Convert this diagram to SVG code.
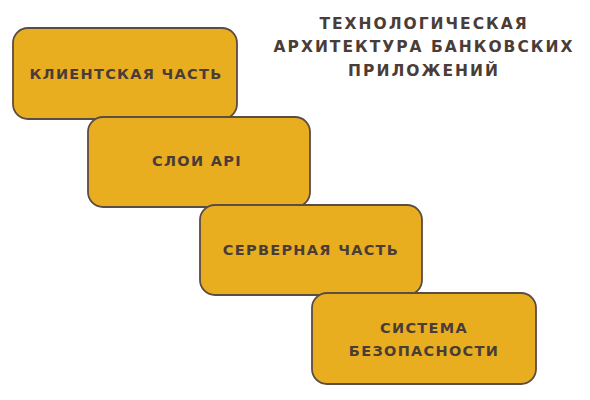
<svg xmlns="http://www.w3.org/2000/svg" width="590" height="400" viewBox="0 0 590 400">
<style>
.box{fill:#E8AE20;stroke:#5b4c44;stroke-width:1.8}
.t{font-family:"DejaVu Sans","Open Sans",sans-serif;font-weight:bold;font-size:14.5px;fill:#4a3c36;text-anchor:middle;letter-spacing:1.3px}
.h{font-family:"DejaVu Sans","Open Sans",sans-serif;font-weight:bold;font-size:15.5px;fill:#4a3c36;text-anchor:middle;letter-spacing:2px}
</style>
<rect width="590" height="400" fill="#ffffff"/>
<g id="title">
<text class="h" x="424" y="29">ТЕХНОЛОГИЧЕСКАЯ</text>
<text class="h" x="424" y="52">АРХИТЕКТУРА БАНКОВСКИХ</text>
<text class="h" x="424" y="76">ПРИЛОЖЕНИЙ</text>
</g>
<g id="connectors"></g>
<g id="n1">
<rect class="box" x="13" y="28" width="224" height="91" rx="15"/>
<text class="t" x="126" y="79">КЛИЕНТСКАЯ ЧАСТЬ</text>
</g>
<g id="n2">
<rect class="box" x="88" y="117" width="222" height="90" rx="15"/>
<text class="t" x="197" y="166">СЛОИ API</text>
</g>
<g id="n3">
<rect class="box" x="200" y="205" width="222" height="90" rx="15"/>
<text class="t" x="311" y="255">СЕРВЕРНАЯ ЧАСТЬ</text>
</g>
<g id="n4">
<rect class="box" x="312" y="293" width="224" height="91" rx="15"/>
<text class="t" x="424" y="333">СИСТЕМА</text>
<text class="t" x="424" y="356">БЕЗОПАСНОСТИ</text>
</g>
</svg>
